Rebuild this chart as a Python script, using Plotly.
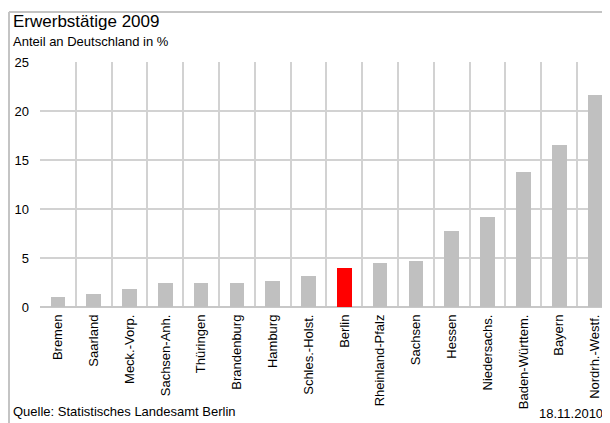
import plotly.graph_objects as go

categories = ["Bremen", "Saarland", "Meck.-Vorp.", "Sachsen-Anh.", "Thüringen",
              "Brandenburg", "Hamburg", "Schles.-Holst.", "Berlin", "Rheinland-Pfalz",
              "Sachsen", "Hessen", "Niedersachs.", "Baden-Württem.", "Bayern",
              "Nordrh.-Westf."]
values = [1.0, 1.3, 1.8, 2.4, 2.4, 2.5, 2.7, 3.2, 4.0, 4.5, 4.7, 7.8, 9.2, 13.8, 16.5, 21.6]
highlight = "Berlin"
y_ticks = [0, 5, 10, 15, 20, 25]

title = "Erwerbstätige 2009"
subtitle = "Anteil an Deutschland in %"
source = "Quelle: Statistisches Landesamt Berlin"
date = "18.11.2010"

OFF = 8  # page body margin
W, H = 610 - OFF, 423 - OFF
L, R, T = 40 - OFF, 0, 62 - OFF
B = H - (307 - OFF)
pw, ph = W - L - R, H - T - B

def px_x(x):
    return (x - OFF - L) / pw

def px_y(y):
    return (H - B - (y - OFF)) / ph

colors = ["#ff0000" if c == highlight else "#c0c0c0" for c in categories]
FONT = "Liberation Sans, Arial, sans-serif"

fig = go.Figure(go.Bar(x=categories, y=values, marker=dict(color=colors, line=dict(width=0)),
                       width=0.41))

grid = "#d2d2d2"
fig.update_layout(
    width=W, height=H,
    margin=dict(l=L, r=R, t=T, b=B),
    paper_bgcolor="white", plot_bgcolor="white",
    font=dict(family=FONT, size=13, color="#000"),
    showlegend=False,
    bargap=0,
    xaxis=dict(type="category", range=[-0.5, 15.42], tickson="boundaries",
               showgrid=True, gridcolor=grid, gridwidth=1.5,
               tickangle=-90, ticks="", showline=False,
               tickfont=dict(size=13), ticklabelstandoff=4),
    yaxis=dict(range=[0, 25], tickvals=y_ticks, showgrid=True, gridcolor=grid,
               gridwidth=1.5, zeroline=True, zerolinecolor="#c8c8c8", zerolinewidth=1.5,
               showline=False, ticks="", tickfont=dict(size=13), ticklabelstandoff=10),
)

# outer frame (left and top edges)
fig.add_shape(type="line", xref="paper", yref="paper",
              x0=px_x(9), x1=px_x(9), y0=px_y(12), y1=px_y(425),
              line=dict(color="#c4c4c4", width=2))
fig.add_shape(type="line", xref="paper", yref="paper",
              x0=px_x(9), x1=px_x(612), y0=px_y(12), y1=px_y(12),
              line=dict(color="#c4c4c4", width=2))

fig.add_annotation(text=title, xref="paper", yref="paper", x=px_x(11), y=px_y(21),
                   xanchor="left", yanchor="middle", showarrow=False,
                   font=dict(size=17, family=FONT, color="#000"))
fig.add_annotation(text=subtitle, xref="paper", yref="paper", x=px_x(11), y=px_y(41),
                   xanchor="left", yanchor="middle", showarrow=False,
                   font=dict(size=13, family=FONT, color="#000"))
fig.add_annotation(text=source, xref="paper", yref="paper", x=px_x(11), y=px_y(411),
                   xanchor="left", yanchor="middle", showarrow=False,
                   font=dict(size=13, family=FONT, color="#000"))
fig.add_annotation(text=date, xref="paper", yref="paper", x=px_x(605), y=px_y(413),
                   xanchor="right", yanchor="middle", showarrow=False,
                   font=dict(size=13, family=FONT, color="#000"))

fig.write_html("out.html")
